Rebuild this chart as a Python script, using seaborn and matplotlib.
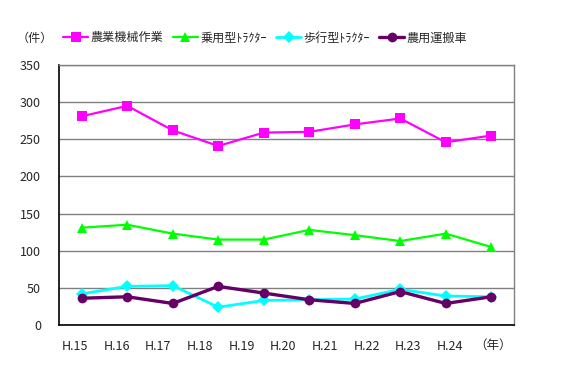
import matplotlib
matplotlib.use("Agg")
import matplotlib.pyplot as plt
import seaborn as sns
import pandas as pd

years = ["H.15", "H.16", "H.17", "H.18", "H.19", "H.20", "H.21", "H.22", "H.23", "H.24"]
series_names = ["農業機械作業", "乗用型ﾄﾗｸﾀｰ", "歩行型ﾄﾗｸﾀｰ", "農用運搬車"]
nogyo_kikai = [281, 295, 262, 241, 259, 260, 270, 278, 246, 255]
joyo_tractor = [131, 135, 123, 115, 115, 128, 121, 113, 123, 105]
hoko_tractor = [42, 52, 53, 24, 33, 34, 35, 48, 39, 38]
noyo_unpan = [36, 38, 29, 52, 43, 34, 29, 45, 29, 38]
y_ticks = [0, 50, 100, 150, 200, 250, 300, 350]

sns.set_theme(style="white")
plt.rcParams["font.family"] = ["Noto Sans CJK JP", "DejaVu Sans"]

fig = plt.figure(figsize=(5.71, 3.76), dpi=100)
ax = fig.add_axes([59 / 571, 1 - 325 / 376, (514 - 59) / 571, (325 - 65) / 376])

styles = [
    dict(color="#ff00ff", marker="s", markersize=7.5, linewidth=1.6),
    dict(color="#00ff00", marker="^", markersize=7.5, linewidth=1.6),
    dict(color="#00ffff", marker="D", markersize=6, linewidth=2),
    dict(color="#660066", marker="o", markersize=7, linewidth=2.4),
]
all_vals = [nogyo_kikai, joyo_tractor, hoko_tractor, noyo_unpan]
xpos = list(range(len(years)))
for name, vals, st in zip(series_names, all_vals, styles):
    df = pd.DataFrame({"x": xpos, "y": vals})
    sns.lineplot(data=df, x="x", y="y", ax=ax, label=name,
                 markeredgewidth=0, **st)

ax.set_xlim(-0.5, len(years) - 0.5)
ax.set_ylim(0, 350)
ax.set_yticks(y_ticks)
ax.set_yticklabels([str(v) for v in y_ticks], fontsize=9)
# labels in the reference sit slightly left of the category centres
label_pos = [-0.15 + i * 0.916 for i in xpos]
ax.set_xticks(label_pos)
ax.set_xticklabels(years, fontsize=9)
ax.tick_params(axis="x", length=0, pad=11)
ax.set_xticks([i + 0.5 for i in range(len(years) - 1)], minor=True)
ax.tick_params(axis="x", which="minor", direction="in", length=4, color="black", width=1)
ax.tick_params(axis="y", direction="out", length=3, color="black", width=1, pad=10)
ax.set_xlabel("")
ax.set_ylabel("")
ax.grid(axis="y", color="#808080", linewidth=1)
ax.set_axisbelow(True)
for s in ["left", "bottom"]:
    ax.spines[s].set_color("black")
    ax.spines[s].set_linewidth(1.2)
for s in ["top", "right"]:
    ax.spines[s].set_color("#808080")
    ax.spines[s].set_linewidth(1)

handles, labels = ax.get_legend_handles_labels()
ax.legend_.remove()
fig.legend(handles, labels, loc="center left", bbox_to_anchor=(63 / 571, 1 - 38 / 376),
           ncol=4, frameon=False, fontsize=8.7, handlelength=2.1, handletextpad=0.2,
           columnspacing=0.75, borderaxespad=0, borderpad=0)

fig.text(17 / 571, 1 - 38 / 376, "（件）", fontsize=8.7, va="center", ha="left")
fig.text(474 / 571, 1 - 345 / 376, "（年）", fontsize=9, va="center", ha="left")

fig.savefig("out.png", dpi=100)
